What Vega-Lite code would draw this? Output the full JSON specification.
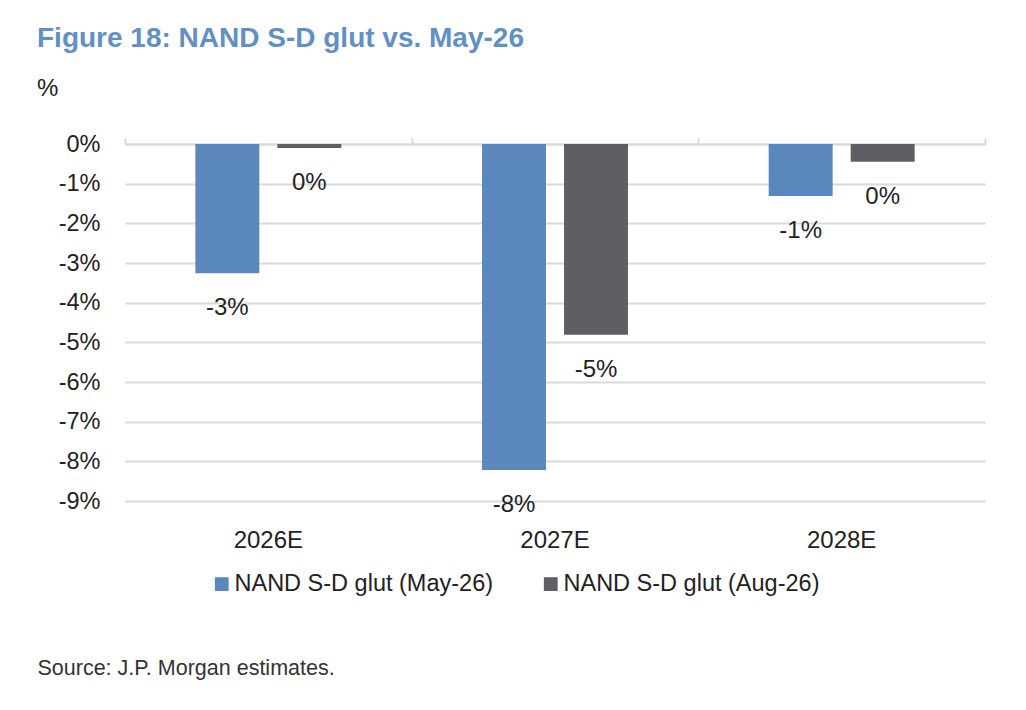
{
  "$schema": "https://vega.github.io/schema/vega-lite/v6.json",
  "autosize": {"type": "none"},
  "width": 860,
  "height": 357,
  "padding": {"left": 125, "top": 144, "right": 41, "bottom": 209},
  "background": "#ffffff",
  "config": {
    "font": "Liberation Sans",
    "view": {"stroke": null},
    "locale": {"number": {"decimal": ".", "thousands": ",", "grouping": [3], "currency": ["$", ""], "minus": "-"}}
  },
  "title": {
    "text": "Figure 18: NAND S-D glut vs. May-26",
    "subtitle": "%",
    "anchor": "start",
    "frame": "group",
    "dx": -88,
    "offset": 31,
    "font": "Liberation Sans",
    "fontSize": 28,
    "fontWeight": "bold",
    "color": "#6190c5",
    "subtitleFont": "Liberation Sans",
    "subtitleFontSize": 24,
    "subtitleColor": "#222222",
    "subtitlePadding": 24
  },
  "data": {
    "values": [
      {"year": "2026E", "series": "NAND S-D glut (May-26)", "value": -0.0326},
      {"year": "2026E", "series": "NAND S-D glut (Aug-26)", "value": -0.001},
      {"year": "2027E", "series": "NAND S-D glut (May-26)", "value": -0.0822},
      {"year": "2027E", "series": "NAND S-D glut (Aug-26)", "value": -0.0481},
      {"year": "2028E", "series": "NAND S-D glut (May-26)", "value": -0.0131},
      {"year": "2028E", "series": "NAND S-D glut (Aug-26)", "value": -0.0045}
    ]
  },
  "encoding": {
    "x": {
      "field": "year",
      "type": "nominal",
      "sort": ["2026E", "2027E", "2028E"],
      "scale": {"paddingInner": 0, "paddingOuter": 0}
    },
    "xOffset": {
      "field": "series",
      "type": "nominal",
      "sort": ["NAND S-D glut (May-26)", "NAND S-D glut (Aug-26)"],
      "scale": {"paddingInner": 0.22, "paddingOuter": 0.858}
    },
    "y": {
      "field": "value",
      "type": "quantitative",
      "scale": {"domain": [-0.09, 0], "nice": false},
      "axis": {
        "values": [0, -0.01, -0.02, -0.03, -0.04, -0.05, -0.06, -0.07, -0.08, -0.09],
        "format": ".0%",
        "title": null,
        "domain": false,
        "ticks": false,
        "labelPadding": 25,
        "labelFontSize": 23.5,
        "labelColor": "#222222",
        "labelFont": "Liberation Sans",
        "gridColor": "#d9d9d9",
        "gridWidth": 2
      }
    }
  },
  "layer": [
    {
      "mark": {"type": "bar"},
      "encoding": {
        "color": {
          "field": "series",
          "type": "nominal",
          "sort": ["NAND S-D glut (May-26)", "NAND S-D glut (Aug-26)"],
          "scale": {"domain": ["NAND S-D glut (May-26)", "NAND S-D glut (Aug-26)"], "range": ["#5a88bd", "#5e5f63"]},
          "legend": {
            "title": null,
            "orient": "none",
            "direction": "horizontal",
            "legendX": 85,
            "legendY": 428,
            "symbolType": "square",
            "symbolSize": 190,
            "symbolStrokeWidth": 0,
            "labelFontSize": 23.5,
            "labelFont": "Liberation Sans",
            "labelColor": "#222222",
            "labelOffset": 1,
            "labelLimit": 0,
            "columnPadding": 45
          }
        },
        "x": {
          "field": "year",
          "type": "nominal",
          "sort": ["2026E", "2027E", "2028E"],
          "axis": {
            "orient": "bottom",
            "domain": false,
            "ticks": false,
            "grid": false,
            "labelAngle": 0,
            "labelFontSize": 24,
            "labelFont": "Liberation Sans",
            "labelColor": "#222222",
            "labelPadding": 27,
            "title": "Source: J.P. Morgan estimates.",
            "titleFont": "Liberation Sans",
            "titleFontSize": 21.5,
            "titleFontWeight": "normal",
            "titleColor": "#333333",
            "titleAnchor": "start",
            "titleAlign": "left",
            "titleBaseline": "middle",
            "titleX": -88,
            "titleY": 167
          }
        }
      }
    },
    {
      "mark": {"type": "text", "baseline": "middle", "align": "center", "dy": 35, "fontSize": 24, "font": "Liberation Sans", "color": "#222222"},
      "encoding": {
        "text": {"field": "value", "type": "quantitative", "format": ".0%"},
        "x": {
          "field": "year",
          "type": "nominal",
          "sort": ["2026E", "2027E", "2028E"],
          "axis": {
            "orient": "top",
            "labels": false,
            "title": null,
            "grid": false,
            "domain": true,
            "domainColor": "#d9d9d9",
            "domainWidth": 2,
            "ticks": true,
            "tickBand": "extent",
            "tickSize": 6,
            "tickColor": "#d9d9d9",
            "tickWidth": 2
          }
        }
      }
    }
  ],
  "resolve": {"axis": {"x": "independent"}}
}
